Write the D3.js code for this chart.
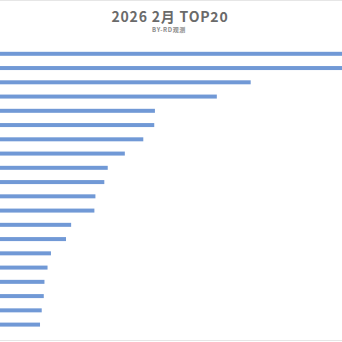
<!DOCTYPE html>
<html>
<head>
<meta charset="utf-8">
<script src="https://cdn.jsdelivr.net/npm/d3@7"></script>
<style>
  html, body { margin: 0; padding: 0; background: #fff; }
  svg { display: block; }
</style>
</head>
<body>
<div id="chart"></div>
<script>
const title = '2026 2月 TOP20';
const subtitle = 'BY-RD观测';
const ranks = d3.range(1, 21).map(d => 'No.' + d);
const values = [110, 105, 73.3, 63.4, 45.3, 45.1, 41.9, 36.5, 31.5, 30.5,
                27.9, 27.6, 20.8, 19.3, 14.9, 13.9, 13.0, 12.8, 12.2, 11.7];

const width = 342, height = 342;
const barH = 4;

const svg = d3.select('#chart')
              .append('svg')
              .attr('width', width)
              .attr('height', height);

// faint frame lines top/bottom
svg.append('line')
   .attr('x1', 0).attr('x2', width)
   .attr('y1', 0.5).attr('y2', 0.5)
   .attr('stroke', '#e6e6e6');
svg.append('line')
   .attr('x1', 0).attr('x2', width)
   .attr('y1', 340.5).attr('y2', 340.5)
   .attr('stroke', '#e6e6e6');

svg.append('text')
   .attr('x', 170)
   .attr('y', 22)
   .attr('text-anchor', 'middle')
   .attr('font-family', '"Noto Sans CJK SC", "Noto Sans", sans-serif')
   .attr('font-size', 14)
   .attr('font-weight', 600)
   .attr('fill', '#6a6a6a')
   .attr('letter-spacing', 0.8)
   .text(title);

svg.append('text')
   .attr('x', 169)
   .attr('y', 32)
   .attr('text-anchor', 'middle')
   .attr('font-family', '"Noto Sans CJK SC", "Noto Sans", sans-serif')
   .attr('font-size', 6)
   .attr('font-weight', 700)
   .attr('fill', '#8a8a8a')
   .attr('letter-spacing', 0.6)
   .text(subtitle);

const xScale = d3.scaleLinear()
                 .domain([0, 100])
                 .range([0, width]);

const yScale = d3.scalePoint()
                 .domain(ranks)
                 .range([53.8, 324.6]);

svg.selectAll('rect.bar')
   .data(values)
   .enter()
   .append('rect')
   .attr('class', 'bar')
   .attr('x', 0)
   .attr('y', (d, i) => yScale(ranks[i]) - barH / 2)
   .attr('width', d => xScale(d))
   .attr('height', barH)
   .attr('fill', '#7199d6');
</script>
</body>
</html>
